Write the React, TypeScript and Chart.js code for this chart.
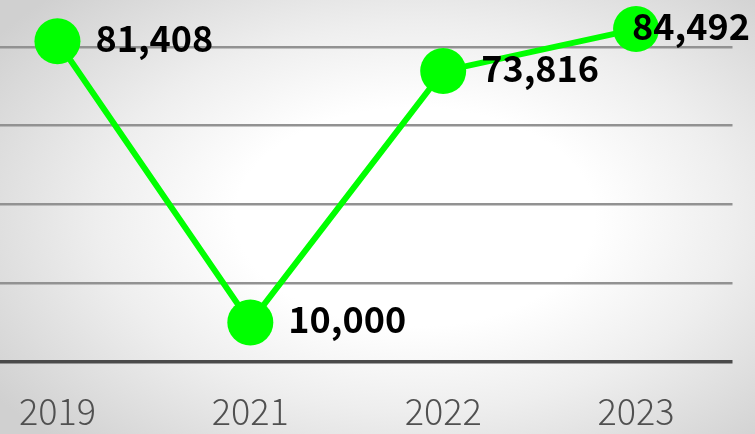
import React, { useEffect, useRef } from "react";
import { Chart, registerables } from "chart.js";

Chart.register(...registerables);

const categories = ["2019", "2021", "2022", "2023"];
const values = [81408, 10000, 73816, 84492];
const yMin = 0;
const yMax = 100000;
const yStep = 20000;

const GREEN = "#00ff00";

const valueLabels = {
  id: "valueLabels",
  afterDatasetsDraw(chart: any) {
    const ctx = chart.ctx;
    const meta = chart.getDatasetMeta(0);
    ctx.save();
    ctx.font = '700 36px "Noto Sans CJK JP", "Noto Sans", sans-serif';
    ctx.fillStyle = "#000";
    ctx.textAlign = "left";
    ctx.textBaseline = "middle";
    meta.data.forEach((pt: any, i: number) => {
      const text = values[i].toLocaleString("en-US");
      const w = ctx.measureText(text).width;
      let x = pt.x + 38;
      const maxX = chart.width - 10 - w;
      if (x > maxX) x = maxX;
      ctx.fillText(text, x, pt.y - 3);
    });
    ctx.restore();
  },
};

export default function App() {
  const ref = useRef<HTMLCanvasElement | null>(null);

  useEffect(() => {
    if (!ref.current) return;
    const chart = new Chart(ref.current, {
      type: "line",
      data: {
        labels: categories,
        datasets: [
          {
            data: values,
            borderColor: GREEN,
            backgroundColor: GREEN,
            borderWidth: 6,
            pointRadius: 23,
            pointHoverRadius: 23,
            pointBackgroundColor: GREEN,
            pointBorderWidth: 0,
            tension: 0,
          },
        ],
      },
      options: {
        animation: false,
        responsive: true,
        maintainAspectRatio: false,
        layout: { padding: { left: 0, right: 27.5, top: 10, bottom: 2 } },
        plugins: {
          legend: { display: false },
          tooltip: { enabled: false },
        },
        scales: {
          x: {
            offset: true,
            grid: { display: false, drawTicks: false },
            border: { display: false },
            ticks: {
              color: "#505050",
              padding: 28,
              font: { family: '"Noto Sans CJK JP", "Noto Sans", sans-serif', size: 36, weight: 300 as any },
            },
          },
          y: {
            min: yMin,
            max: yMax,
            ticks: { display: false, stepSize: yStep },
            border: { display: false },
            grid: {
              drawTicks: false,
              color: (c: any) => (c.tick && c.tick.value === 0 ? "#4a4a4a" : "#929292"),
              lineWidth: (c: any) => (c.tick && c.tick.value === 0 ? 3.5 : 2.5),
            },
          },
        },
      },
      plugins: [valueLabels],
    });
    return () => chart.destroy();
  }, []);

  return (
    <div
      style={{
        position: "fixed",
        left: 0,
        top: 0,
        width: 755,
        height: 434,
        overflow: "hidden",
        background:
          "radial-gradient(ellipse 68% 72% at 55% 50%, #ffffff 35%, #eeeeee 62%, #d0d0d0 100%)",
      }}
    >
      <div style={{ position: "absolute", left: -62, top: -55, width: 822, height: 518 }}>
        <canvas ref={ref} />
      </div>
    </div>
  );
}
